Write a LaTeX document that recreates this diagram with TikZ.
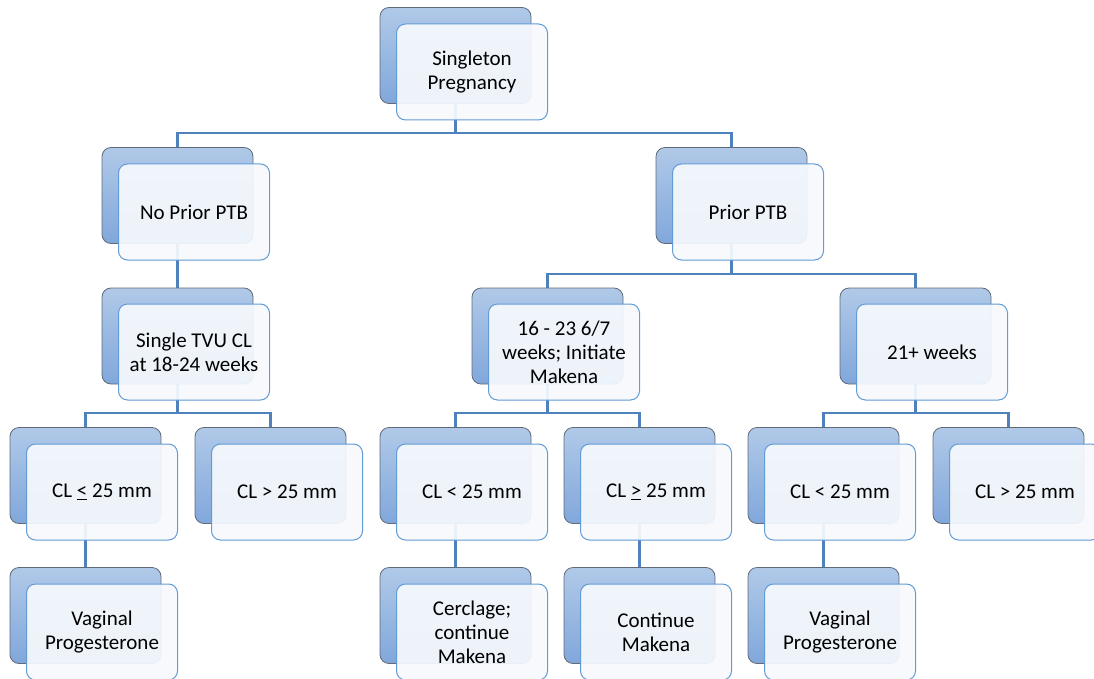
\documentclass[tikz,border=0pt]{standalone}
\usepackage{fontspec}
\setmainfont{Carlito}
\usepackage{tikz}

\definecolor{lineblue}{RGB}{79,129,189}
\definecolor{edgeblue}{RGB}{98,155,213}
\definecolor{backtop}{RGB}{176,201,232}
\definecolor{backbot}{RGB}{129,167,219}
\definecolor{backrim}{RGB}{96,106,120}
\definecolor{frontfill}{RGB}{246,249,253}

\begin{document}
\begin{tikzpicture}[x=1pt,y=-1pt]
			\tikzstyle{back}  = [rectangle,rounded corners=9pt,draw=backrim,line width=0.8pt,top color=backtop,bottom color=backbot,minimum width=151pt,minimum height=96pt]
			\tikzstyle{front} = [rectangle,rounded corners=9pt,draw=edgeblue,line width=1pt,fill=frontfill,fill opacity=0.93,text opacity=1,minimum width=151pt,minimum height=96pt,align=center,font=\fontsize{21}{24}\selectfont]
			\tikzstyle{link}  = [draw=lineblue,line width=2.4pt]
			
			\clip (0,0) rectangle (1094,679);
			
			% connectors first, they show through the front boxes
			\coordinate (singletonB) at (455.5,104);
			\coordinate (nopriorT) at (177.5,147);
			\coordinate (nopriorB) at (177.5,244);
			\coordinate (priorT) at (731.5,147);
			\coordinate (priorB) at (731.5,244);
			\coordinate (tvuT) at (177.5,288);
			\coordinate (tvuB) at (177.5,384);
			\coordinate (earlyT) at (547.5,288);
			\coordinate (earlyB) at (547.5,384);
			\coordinate (lateT) at (915.5,288);
			\coordinate (lateB) at (915.5,384);
			
			\path[link] (singletonB) -- ++(0,29) -| (nopriorT);
			\path[link] (singletonB) -- ++(0,29) -| (priorT);
			\path[link] (nopriorB) -- (tvuT);
			\path[link] (priorB) -- ++(0,30) -| (earlyT);
			\path[link] (priorB) -- ++(0,30) -| (lateT);
			\path[link] (tvuB) -- ++(0,29) -| (85.5,428);
			\path[link] (tvuB) -- ++(0,29) -| (270.5,428);
			\path[link] (earlyB) -- ++(0,29) -| (455.5,428);
			\path[link] (earlyB) -- ++(0,29) -| (639.5,428);
			\path[link] (lateB) -- ++(0,29) -| (823.5,428);
			\path[link] (lateB) -- ++(0,29) -| (1008.5,428);
			\path[link] (85.5,523) -- (85.5,568);
			\path[link] (455.5,523) -- (455.5,568);
			\path[link] (639.5,523) -- (639.5,568);
			\path[link] (823.5,523) -- (823.5,568);
			
			% level 0
			\node[back] (singletonb) at (455.5,55.5) {};
			\node[front] (singleton) at (472,72) {Singleton\\Pregnancy};
			
			% level 1
			\node[back] (nopriorb) at (177.5,195.5) {};
			\node[front] (noprior) at (194,212) {No Prior PTB};
			
			\node[back] (priorb) at (731.5,195.5) {};
			\node[front] (prior) at (748,212) {Prior PTB};
			
			% level 2
			\node[back] (tvub) at (177.5,336) {};
			\node[front] (tvu) at (194,352) {Single TVU CL\\at 18-24 weeks};
			
			\node[back] (earlyb) at (547.5,336) {};
			\node[front] (early) at (564,352) {16 - 23 6/7\\weeks; Initiate\\Makena};
			
			\node[back] (lateb) at (915.5,336) {};
			\node[front] (late) at (932,352) {21+ weeks};
			
			% level 3
			\node[back] (cllowab) at (85.5,475.5) {};
			\node[front] (cllowa) at (102,492) {CL \underline{<} 25 mm};
			
			\node[back] (clhighab) at (270.5,475.5) {};
			\node[front] (clhigha) at (287,492) {CL > 25 mm};
			
			\node[back] (cllowbb) at (455.5,475.5) {};
			\node[front] (cllowb) at (472,492) {CL < 25 mm};
			
			\node[back] (clhighbb) at (639.5,475.5) {};
			\node[front] (clhighb) at (656,492) {CL \underline{>} 25 mm};
			
			\node[back] (cllowcb) at (823.5,475.5) {};
			\node[front] (cllowc) at (840,492) {CL < 25 mm};
			
			\node[back] (clhighcb) at (1008.5,475.5) {};
			\node[front] (clhighc) at (1025,492) {CL > 25 mm};
			
			% level 4
			\node[back] (vaginalab) at (85.5,615.5) {};
			\node[front] (vaginala) at (102,632) {Vaginal\\Progesterone};
			
			\node[back] (cerclageb) at (455.5,615.5) {};
			\node[front] (cerclage) at (472,632) {Cerclage;\\continue\\Makena};
			
			\node[back] (continueb) at (639.5,615.5) {};
			\node[front] (continue) at (656,632) {Continue\\Makena};
			
			\node[back] (vaginalcb) at (823.5,615.5) {};
			\node[front] (vaginalc) at (840,632) {Vaginal\\Progesterone};
		\end{tikzpicture}
\end{document}
